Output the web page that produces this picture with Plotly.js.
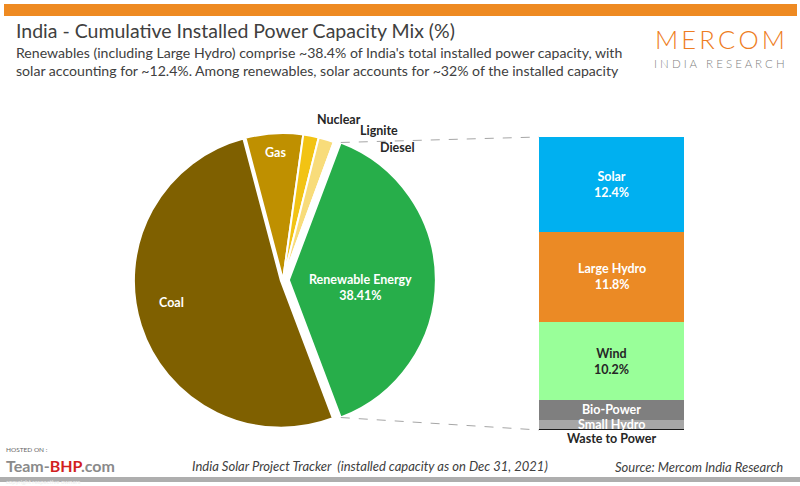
<!DOCTYPE html>
<html>
<head>
<meta charset="utf-8">
<script src="https://cdn.plot.ly/plotly-3.0.1.min.js"></script>
<style>
html,body{margin:0;padding:0;background:#fff;}
#chart{width:800px;height:486px;}
</style>
</head>
<body>
<div id="chart"></div>
<script>
// ---- Data ----
const pieLabels = ["Renewable Energy", "Coal", "Gas", "Nuclear", "Lignite", "Diesel"];
const pieValues = [38.41, 51.5, 6.3, 1.7, 1.7, 0.13];
const pieColors = ["#27AE4A", "#7F6000", "#BF9000", "#F2C314", "#F8DC7A", "#C99A06"];

const barLabels = ["Waste to Power", "Small Hydro", "Bio-Power", "Wind", "Large Hydro", "Solar"];
const barValues = [0.12, 1.2, 2.6, 10.2, 11.8, 12.4];
const barColors = ["#1a1a1a", "#A6A6A6", "#7F7F7F", "#99FF99", "#EB8A25", "#00B0F0"];

const titleText = "India - Cumulative Installed Power Capacity Mix (%)";
const subtitleText = "Renewables (including Large Hydro) comprise ~38.4% of India's total installed power capacity, with<br>solar accounting for ~12.4%. Among renewables, solar accounts for ~32% of the installed capacity";
const footLeft = "India Solar Project Tracker  (installed capacity as on Dec 31, 2021)";
const footRight = "Source: Mercom India Research";

// ---- Geometry (pixels) ----
const W = 800, H = 486;
const CX = 283, CY = 280, R = 147, PULL = 0.04;
const font = "Lato, 'Open Sans', sans-serif";

const total = pieValues.reduce((a,b)=>a+b,0);
const renSpan = 360 * pieValues[0] / total;
const rotation = 90 - renSpan / 2;

const half = R * (1 + PULL);
const pieDomX = [(CX - half) / W, (CX + half) / W];
const pieDomY = [(H - CY - half) / H, (H - CY + half) / H];

const barDomX = [539 / W, 684 / W];
const barDomY = [(H - 430) / H, (H - 137) / H];
const barTotal = barValues.reduce((a,b)=>a+b,0);

const traces = [{
  type: "pie",
  labels: pieLabels,
  values: pieValues,
  sort: false,
  direction: "clockwise",
  rotation: rotation,
  pull: [PULL, 0.015, 0, 0, 0, 0],
  marker: {colors: pieColors, line: {color: "#ffffff", width: 2}},
  textinfo: "none",
  hoverinfo: "label+percent",
  showlegend: false,
  domain: {x: pieDomX, y: pieDomY}
}];

barLabels.forEach((lab, i) => {
  traces.push({
    type: "bar",
    x: ["RE"],
    y: [barValues[i]],
    name: lab,
    marker: {color: barColors[i], line: {width: 0}},
    xaxis: "x",
    yaxis: "y",
    showlegend: false,
    hoverinfo: "name+y"
  });
});

// connector endpoints computed from pie geometry
const pullPx = R * PULL;
function piePoint(angDeg) {
  const a = angDeg * Math.PI / 180;
  const mid = (rotation + renSpan / 2) * Math.PI / 180;
  const x = CX + pullPx * Math.sin(mid) + R * Math.sin(a);
  const y = CY - pullPx * Math.cos(mid) - R * Math.cos(a);
  return [x / W, 1 - y / H];
}
const pTop = piePoint(rotation);
const pBot = piePoint(rotation + renSpan);

const shapes = [
  {type: "rect", xref: "paper", yref: "paper", x0: 4/W, x1: 797/W, y0: 1 - 16/H, y1: 1 - 4/H,
   fillcolor: "#EE8A22", line: {width: 0}},
  {type: "line", xref: "paper", yref: "paper", x0: pTop[0], y0: pTop[1], x1: barDomX[0], y1: barDomY[1],
   line: {color: "#A6A6A6", width: 1, dash: "dash"}},
  {type: "line", xref: "paper", yref: "paper", x0: pBot[0], y0: pBot[1], x1: barDomX[0], y1: barDomY[0],
   line: {color: "#A6A6A6", width: 1, dash: "dash"}},
  {type: "rect", xref: "paper", yref: "paper", x0: 0, x1: 1, y0: 1 - 482/H, y1: 1 - 477/H,
   fillcolor: "#9a9a9a", line: {width: 0}, opacity: 0.8}
];

const ann = [];
function A(o) { ann.push(Object.assign({showarrow: false, xref: "paper", yref: "paper", xanchor: "center", yanchor: "middle"}, o)); }

// title / subtitle
A({x: 14/W, y: 1 - 17/H, xanchor: "left", yanchor: "top", align: "left", text: titleText,
   font: {family: font, size: 19.5, color: "#404040"}});
A({x: 14/W, y: 1 - 42/H, xanchor: "left", yanchor: "top", align: "left", text: subtitleText,
   font: {family: font, size: 14.1, color: "#404040"}});

// logo
A({x: 787/W, y: 1 - 38.5/H, xanchor: "right", text: "M\u2009E\u2009R\u2009C\u2009O\u2009M",
   font: {family: font, size: 25.5, color: "#EE7D22", weight: 300}});
A({x: 787/W, y: 1 - 63.5/H, xanchor: "right", text: "I N D I A   R E S E A R C H",
   font: {family: font, size: 11.5, color: "#808080", weight: 300}});

// pie labels
const wb = {family: font, size: 12.5, color: "#ffffff", weight: "bold"};
const kb = {family: font, size: 12.5, color: "#262626", weight: "bold"};
A({x: 171/W, y: 1 - 302/H, text: "Coal", font: wb});
A({x: 275/W, y: 1 - 152/H, text: "Gas", font: wb});
A({x: 360/W, y: 1 - 287/H, text: "Renewable Energy<br>38.41%", font: wb});
A({x: 339/W, y: 1 - 119/H, text: "Nuclear", font: kb});
A({x: 379/W, y: 1 - 131/H, text: "Lignite", font: kb});
A({x: 397/W, y: 1 - 148/H, text: "Diesel", font: kb});

// bar labels from data
let cum = 0;
const labelStyle = {"Solar": wb, "Large Hydro": wb, "Wind": kb, "Bio-Power": wb, "Small Hydro": wb};
barLabels.forEach((lab, i) => {
  const mid = cum + barValues[i] / 2;
  cum += barValues[i];
  const base = {showarrow: false, xref: "x", yref: "y", x: "RE", xanchor: "center", yanchor: "middle"};
  if (lab === "Waste to Power") {
    ann.push(Object.assign(base, {y: 0, yanchor: "top", yshift: 1, text: lab, font: kb}));
  } else if (barValues[i] > 5) {
    ann.push(Object.assign(base, {y: mid, text: lab + "<br>" + barValues[i].toFixed(1) + "%", font: labelStyle[lab]}));
  } else {
    ann.push(Object.assign(base, {y: mid, text: lab, font: labelStyle[lab]}));
  }
});

// footer
A({x: 190/W, y: 1 - 466/H, xanchor: "left", text: footLeft,
   font: {family: font, size: 13, color: "#404040", style: "italic"}});
A({x: 785/W, y: 1 - 467/H, xanchor: "right", text: footRight,
   font: {family: font, size: 13, color: "#404040", style: "italic"}});
// watermark
A({x: 4/W, y: 1 - 449/H, xanchor: "left", text: "HOSTED ON :", font: {family: font, size: 6.5, color: "#666"}});
A({x: 4/W, y: 1 - 465/H, xanchor: "left", text: "<b>Team-<span style='color:#d21f1f'>BHP</span>.com</b>",
   font: {family: font, size: 16, color: "#8a8a8a"}});
A({x: 4/W, y: 1 - 481.5/H, xanchor: "left", text: "copyright respective owners", font: {family: font, size: 6, color: "#eeeeee"}});

const layout = {
  width: W, height: H,
  margin: {l: 0, r: 0, t: 0, b: 0},
  paper_bgcolor: "#ffffff",
  plot_bgcolor: "rgba(0,0,0,0)",
  barmode: "stack",
  bargap: 0,
  xaxis: {domain: barDomX, visible: false, fixedrange: true},
  yaxis: {domain: barDomY, range: [0, barTotal], visible: false, fixedrange: true},
  shapes: shapes,
  annotations: ann,
  showlegend: false
};

Plotly.newPlot("chart", traces, layout, {displayModeBar: false, staticPlot: true});
</script>
</body>
</html>
